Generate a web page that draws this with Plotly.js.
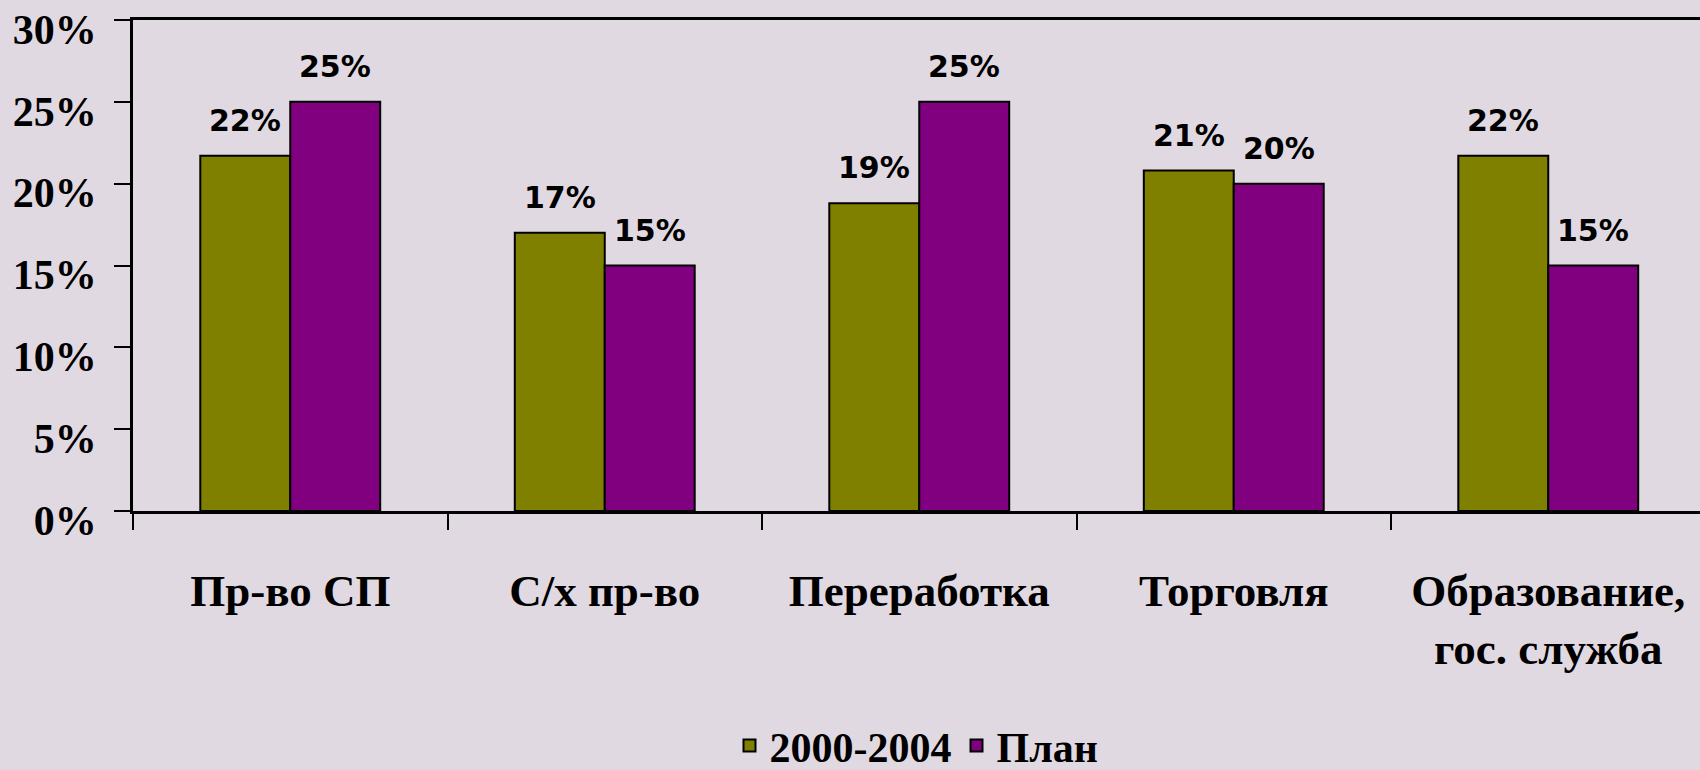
<!DOCTYPE html>
<html>
<head>
<meta charset="utf-8">
<script src="https://cdn.plot.ly/plotly-3.0.1.min.js"></script>
<style>
  html, body { margin: 0; padding: 0; background: #e1d9e2; overflow: hidden; }
  #chart { width: 1700px; height: 770px; }
</style>
</head>
<body>
<div id="chart"></div>
<script>
// ---- data ----
const categories = ['Пр-во СП', 'С/х пр-во', 'Переработка', 'Торговля', 'Образование,<br>гос. служба'];
const seriesNames = ['2000-2004', 'План'];
const values2000_2004 = [21.7, 17.0, 18.8, 20.8, 21.7];
const valuesPlan = [25, 15, 25, 20, 15];
const yTickVals = [0, 5, 10, 15, 20, 25, 30];

// ---- style ----
const BG = '#e1d9e2';
const colors = ['#808000', '#800080'];
const serif = { family: 'Liberation Serif, Times New Roman, serif', color: '#000000', weight: 'bold' };
const sans = { family: 'DejaVu Sans, Verdana, sans-serif', color: '#000000', weight: 'bold' };

const seriesValues = [values2000_2004, valuesPlan];

const traces = seriesValues.map((vals, k) => ({
  type: 'bar',
  name: seriesNames[k],
  x: categories,
  y: vals,
  marker: { color: colors[k], line: { color: '#000000', width: 2 } },
  hoverinfo: 'x+y+name'
}));

// data labels above each bar
const annotations = [];
const shifts = [-45, 45];
seriesValues.forEach((vals, k) => {
  vals.forEach((v, i) => {
    annotations.push({
      x: categories[i], y: v, xref: 'x', yref: 'y',
      text: Math.round(v) + '%',
      showarrow: false,
      xanchor: 'center', yanchor: 'bottom',
      xshift: shifts[k], yshift: 16,
      font: Object.assign({}, sans, { size: 30 })
    });
  });
});

const layout = {
  width: 1700,
  height: 770,
  paper_bgcolor: BG,
  plot_bgcolor: BG,
  margin: { l: 133, r: 0, t: 20, b: 259, autoexpand: false },
  barmode: 'group',
  bargap: 0.428,
  bargroupgap: 0,
  showlegend: true,
  legend: {
    orientation: 'h',
    x: 0.5, xanchor: 'center',
    y: -0.478, yanchor: 'middle',
    font: Object.assign({}, serif, { size: 42 }),
    bgcolor: 'rgba(0,0,0,0)',
    itemclick: false, itemdoubleclick: false
  },
  xaxis: {
    type: 'category',
    range: [-0.5, 4.4825],
    showgrid: false,
    zeroline: false,
    showline: true,
    linecolor: '#000000',
    linewidth: 2.5,
    mirror: true,
    ticks: 'outside',
    tickson: 'boundaries',
    ticklen: 16,
    tickwidth: 2,
    tickcolor: '#000000',
    ticklabelstandoff: 38,
    tickfont: Object.assign({}, serif, { size: 45 }),
    fixedrange: true
  },
  yaxis: {
    range: [0, 30],
    tickvals: yTickVals,
    ticktext: yTickVals.map(v => v + '%'),
    showgrid: false,
    zeroline: false,
    showline: true,
    linecolor: '#000000',
    linewidth: 2.5,
    ticks: 'outside',
    ticklen: 16,
    tickwidth: 2,
    tickcolor: '#000000',
    ticklabelstandoff: 9,
    ticklabelshift: 9,
    tickfont: Object.assign({}, serif, { size: 42 }),
    fixedrange: true
  },
  annotations: annotations
};

Plotly.newPlot('chart', traces, layout, { displayModeBar: false, staticPlot: false });
</script>
</body>
</html>
